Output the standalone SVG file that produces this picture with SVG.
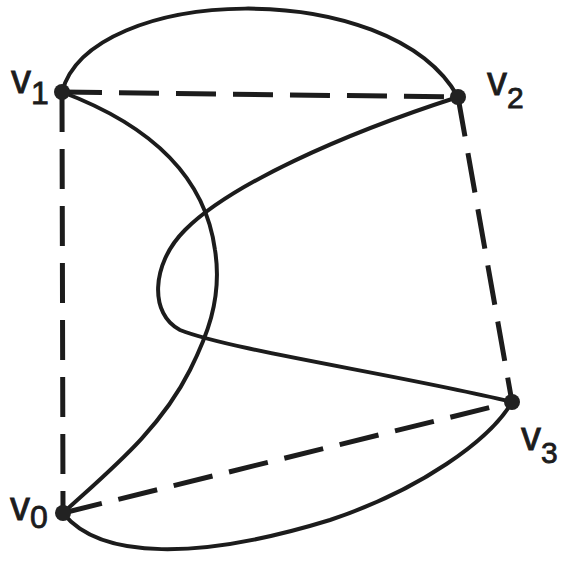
<svg xmlns="http://www.w3.org/2000/svg" width="561" height="563" viewBox="0 0 561 563">
<style>
.edge{fill:none;stroke:#1c1c1c;stroke-width:4;stroke-linecap:round}
.dash{fill:none;stroke:#1c1c1c;stroke-width:5;stroke-dasharray:40 17;stroke-linecap:butt}
.node{fill:#222}
.lbl{font-family:"Liberation Sans",Arial,sans-serif;fill:#1c1c1c;stroke:#1c1c1c;stroke-width:0.8}
</style>
<rect width="561" height="563" fill="#fff"/>
<g id="connectors">
<path class="dash" d="M62,92 L458,97"/>
<path class="dash" d="M62,92 L63,513"/>
<path class="dash" d="M458,97 L512,402"/>
<path class="dash" d="M63,513 L512,402"/>
<path class="edge" d="M62,92 C90,-15 390,-25 458,97"/>
<path class="edge" d="M62,92 C150,125 205,175 215,250 C223,300 205,340 190,370 C160,430 110,470 63,513"/>
<path class="edge" d="M458,97 C340,135 230,185 185,230 C150,265 150,315 180,330 C230,350 400,375 512,402"/>
<path class="edge" d="M63,513 C100,560 200,560 330,520 C420,490 490,440 512,402"/>
</g>
<g id="v1"><circle class="node" cx="62" cy="92" r="8"/><text class="lbl"><tspan x="11" y="93" font-size="40">v</tspan><tspan x="31" y="104" font-size="32">1</tspan></text></g>
<g id="v2"><circle class="node" cx="458" cy="97" r="8"/><text class="lbl"><tspan x="487" y="95" font-size="40">v</tspan><tspan x="507" y="108" font-size="30">2</tspan></text></g>
<g id="v3"><circle class="node" cx="512" cy="402" r="8"/><text class="lbl"><tspan x="521" y="450" font-size="40">v</tspan><tspan x="541" y="463" font-size="30">3</tspan></text></g>
<g id="v0"><circle class="node" cx="63" cy="513" r="8"/><text class="lbl"><tspan x="10" y="520" font-size="40">v</tspan><tspan x="30" y="528" font-size="32">0</tspan></text></g>
</svg>
